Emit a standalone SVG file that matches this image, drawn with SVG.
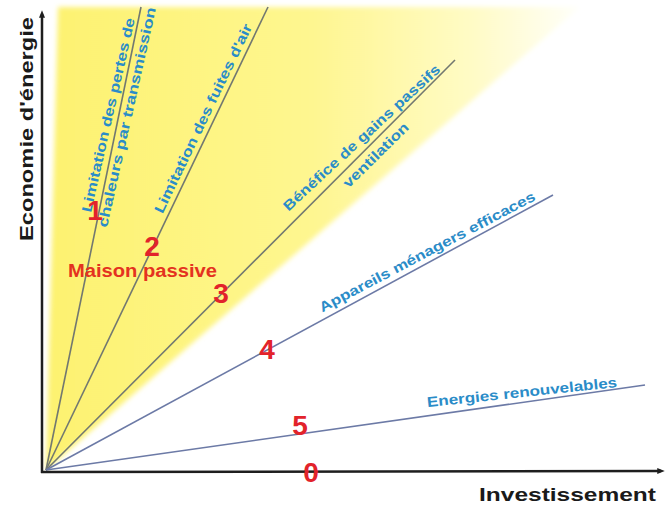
<svg xmlns="http://www.w3.org/2000/svg" width="665" height="506" viewBox="0 0 665 506">
<style>
.lbl{font-family:"Liberation Sans",Arial,sans-serif;font-weight:bold;font-size:14px;fill:#2a8cc8;dominant-baseline:central}
.num{font-family:"Liberation Sans",Arial,sans-serif;font-weight:bold;font-size:28px;fill:#e2232b;text-anchor:middle;dominant-baseline:central}
.axt{font-family:"Liberation Sans",Arial,sans-serif;font-weight:bold;font-size:19px;fill:#1a1a1a}
.ray1{stroke:#727870;stroke-width:1.6;fill:none}
.ray2{stroke:#6c7aa6;stroke-width:1.6;fill:none}
.axis{stroke:#1e1e1e;stroke-width:2.5;fill:none}
</style>
<defs>
<linearGradient id="yg" x1="0" y1="0" x2="1" y2="0">
<stop offset="0" stop-color="#fdf270"/>
<stop offset="0.5" stop-color="#fef690"/>
<stop offset="0.8" stop-color="#fffbc6"/>
<stop offset="1" stop-color="#fffffa"/>
</linearGradient>
<filter id="soft" x="-5%" y="-5%" width="110%" height="110%"><feGaussianBlur stdDeviation="2.5"/></filter>
<marker id="ah" viewBox="0 0 10 10" refX="5" refY="5" markerWidth="3" markerHeight="3" orient="auto"><path d="M0,1 L10,5 L0,9 Z" fill="#1e1e1e"/></marker>
</defs>

<g id="zone">
<polygon points="46,470 58,7 580,7" fill="url(#yg)" filter="url(#soft)"/>
</g>

<g id="connectors">
<line class="ray1" x1="46" y1="470" x2="141" y2="7"/>
<line class="ray1" x1="46" y1="470" x2="268" y2="7"/>
<line class="ray1" x1="46" y1="470" x2="455" y2="60"/>
<line class="ray2" x1="46" y1="470" x2="553" y2="195"/>
<line class="ray2" x1="46" y1="470" x2="645" y2="385"/>
</g>

<g id="axes">
<line class="axis" x1="42" y1="473" x2="42" y2="14" marker-end="url(#ah)"/>
<line class="axis" x1="41" y1="472" x2="661" y2="471" marker-end="url(#ah)"/>
<text class="axt" transform="translate(33,241) rotate(-90)" textLength="224" lengthAdjust="spacingAndGlyphs">Economie d'énergie</text>
<text class="axt" x="479" y="501" textLength="177" lengthAdjust="spacingAndGlyphs">Investissement</text>
</g>

<g id="label1">
<text class="lbl" transform="translate(86,212) rotate(-77.2)" textLength="199" lengthAdjust="spacingAndGlyphs">Limitation des pertes de</text>
<text class="lbl" transform="translate(102,227) rotate(-77.4)" textLength="225" lengthAdjust="spacingAndGlyphs">chaleurs par transmission</text>
</g>
<g id="label2">
<text class="lbl" transform="translate(158,212) rotate(-64.4)" textLength="208" lengthAdjust="spacingAndGlyphs">Limitation des fuites d'air</text>
</g>
<g id="label3">
<text class="lbl" transform="translate(285,208) rotate(-42.7)" textLength="208" lengthAdjust="spacingAndGlyphs">Bénéfice de gains passifs</text>
<text class="lbl" transform="translate(345,185) rotate(-44.5)" textLength="86" lengthAdjust="spacingAndGlyphs">ventilation</text>
</g>
<g id="label4">
<text class="lbl" transform="translate(320,308) rotate(-27.8)" textLength="242" lengthAdjust="spacingAndGlyphs">Appareils ménagers efficaces</text>
</g>
<g id="label5">
<text class="lbl" transform="translate(427,402) rotate(-6)" textLength="191" lengthAdjust="spacingAndGlyphs">Energies renouvelables</text>
</g>

<g id="numbers">
<text class="num" x="95" y="210">1</text>
<text class="num" x="152" y="246">2</text>
<text class="num" x="221" y="293">3</text>
<text class="num" x="267" y="349">4</text>
<text class="num" x="300" y="425">5</text>
<text class="num" x="311" y="472">0</text>
</g>

<g id="maison">
<text x="68" y="277" textLength="149" lengthAdjust="spacingAndGlyphs" style="font-family:'Liberation Sans',Arial,sans-serif;font-weight:bold;font-size:18px;fill:#e4321f">Maison passive</text>
</g>
</svg>
